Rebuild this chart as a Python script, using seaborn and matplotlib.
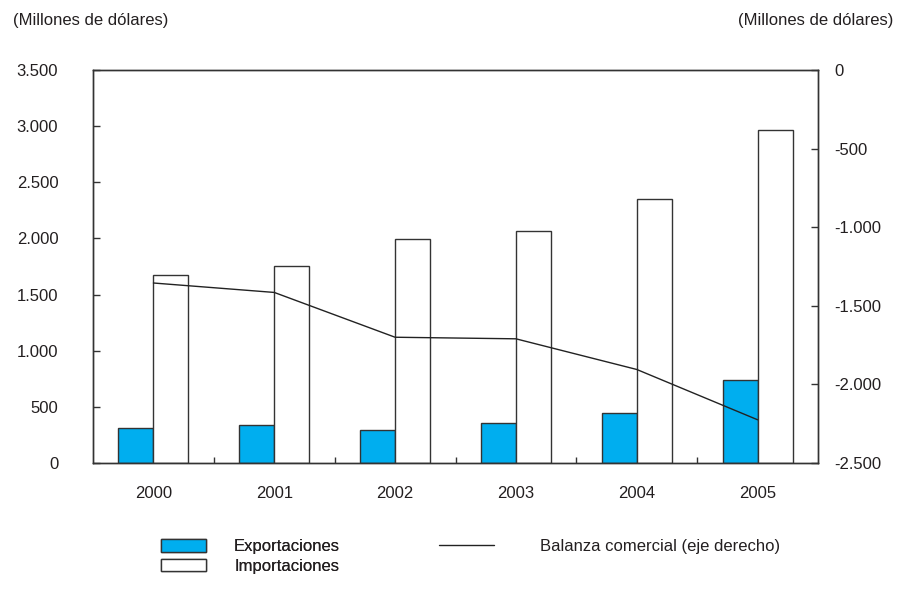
import numpy as np
import pandas as pd
import matplotlib
matplotlib.use("Agg")
import matplotlib.pyplot as plt
import seaborn as sns
from matplotlib.patches import Patch
from matplotlib.lines import Line2D
from matplotlib.ticker import FuncFormatter

# ---------------- data ----------------
years = ["2000", "2001", "2002", "2003", "2004", "2005"]
exportaciones = [310, 340, 290, 355, 445, 735]
importaciones = [1670, 1755, 1995, 2065, 2350, 2965]
balanza = [-1355, -1415, -1700, -1710, -1905, -2225]
left_ticks = [0, 500, 1000, 1500, 2000, 2500, 3000, 3500]
right_ticks = [-2500, -2000, -1500, -1000, -500, 0]
series_names = ["Exportaciones", "Importaciones"]
balance_label = "Balanza comercial (eje derecho)"
unit_label = "(Millones de dólares)"

# ---------------- style ----------------
sns.set_style("white")
plt.rcParams["font.family"] = ["Liberation Sans", "DejaVu Sans"]
plt.rcParams["font.size"] = 12
TXT = "#231f20"
EDGE = "#333333"
BLUE = "#00aeef"

W, H = 897, 589
fig = plt.figure(figsize=(W / 100, H / 100), dpi=100)
ax = fig.add_axes([93 / W, 1 - 463 / H, (818 - 93) / W, (463 - 70) / H])

df = pd.DataFrame({
    "year": years * 2,
    "serie": [series_names[0]] * len(years) + [series_names[1]] * len(years),
    "valor": exportaciones + importaciones,
})
sns.barplot(data=df, x="year", y="valor", hue="serie", order=years,
            hue_order=series_names,
            palette={series_names[0]: BLUE, series_names[1]: "white"},
            saturation=1, width=0.58, edgecolor=EDGE, linewidth=1.0,
            errorbar=None, legend=False, ax=ax)
ax.set_xlim(-0.5, len(years) - 0.5)
ax.set_ylim(left_ticks[0], left_ticks[-1])
ax.set_xlabel("")
ax.set_ylabel("")

fmt = FuncFormatter(lambda v, p: f"{v:,.0f}".replace(",", "."))
ax.set_yticks(left_ticks)
ax.yaxis.set_major_formatter(fmt)
ax.set_xticks(range(len(years)), years)
ax.set_xticks(np.arange(0.5, len(years) - 1, 1.0), minor=True)
ax.tick_params(axis="y", which="major", left=True, direction="in", length=5,
               width=1, color=EDGE, pad=25, labelsize=12, labelcolor=TXT)
ax.tick_params(axis="x", which="major", bottom=True, length=0, pad=16.5,
               labelsize=12, labelcolor=TXT)
ax.tick_params(axis="x", which="minor", bottom=True, direction="in",
               length=4.5, width=1, color=EDGE)

ax2 = ax.twinx()
sns.lineplot(x=np.arange(len(years)), y=balanza, ax=ax2, color="#222222",
             linewidth=1.0)
ax2.set_ylim(right_ticks[0], right_ticks[-1])
ax2.set_yticks(right_ticks)
ax2.yaxis.set_major_formatter(fmt)
ax2.tick_params(axis="y", right=True, direction="in", length=5, width=1,
                color=EDGE, pad=12, labelsize=12, labelcolor=TXT)
ax2.set_ylabel("")

for a in (ax, ax2):
    for s in a.spines.values():
        s.set_visible(True)
        s.set_color(EDGE)
        s.set_linewidth(1.0)

# unit labels
fig.text(13 / W, 1 - 21 / H, unit_label, ha="left", va="center",
         fontsize=12, color=TXT)
fig.text(893 / W, 1 - 21 / H, unit_label, ha="right", va="center",
         fontsize=12, color=TXT)

# legends
bar_handles = [Patch(facecolor=BLUE, edgecolor=EDGE, linewidth=1.0),
               Patch(facecolor="white", edgecolor=EDGE, linewidth=1.0)]
leg1 = fig.legend(bar_handles, series_names, loc="upper left",
                  bbox_to_anchor=(161 / W, 1 - 539 / H), frameon=False,
                  borderpad=0, borderaxespad=0, handlelength=2.7,
                  handleheight=0.78, handletextpad=1.68, labelspacing=0.27,
                  fontsize=12, labelcolor=TXT)
line_handle = [Line2D([0], [0], color="#222222", linewidth=1.0)]
leg2 = fig.legend(line_handle, [balance_label], loc="upper left",
                  bbox_to_anchor=(439 / W, 1 - 539 / H), frameon=False,
                  borderpad=0, borderaxespad=0, handlelength=3.3,
                  handletextpad=2.76, fontsize=12, labelcolor=TXT)
fig.add_artist(leg1)

fig.savefig("out.png", dpi=100)
